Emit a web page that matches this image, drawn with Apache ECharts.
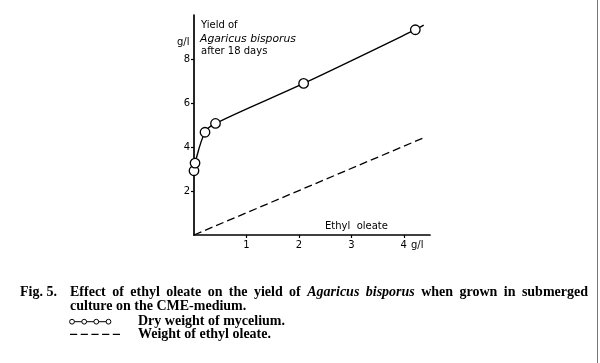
<!DOCTYPE html>
<html><head><meta charset="utf-8">
<script src="https://cdn.jsdelivr.net/npm/echarts@6/dist/echarts.min.js"></script>
<style>html,body{margin:0;padding:0;background:#fff}#c{width:600px;height:363px}</style>
</head><body><div id="c"></div>
<script>
// Dry weight of mycelium (g/l) vs ethyl oleate added (g/l)
var myceliumX = [0, 0.02, 0.21, 0.41, 2.09, 4.22];
var myceliumY = [2.92, 3.27, 4.67, 5.07, 6.89, 9.33];
var myceliumTail = [4.38, 9.54];
// Weight of ethyl oleate
var oleateX = [0, 4.38];
var oleateY = [0, 4.42];
var xTicks = [1, 2, 3, 4];
var yTicks = [2, 4, 6, 8];

var chart = echarts.init(document.getElementById('c'), null, {renderer: 'canvas'});
var myc = myceliumX.map(function (x, i) { return [x, myceliumY[i]]; });
myc.push({value: myceliumTail, symbol: 'none'});
var ole = oleateX.map(function (x, i) { return [x, oleateY[i]]; });

var sans = 'DejaVu Sans';
var serif = 'Liberation Serif';
var ink = '#000';
var capFont = 'bold 14px ' + serif;
var capItalic = 'italic bold 14px ' + serif;

// justified first caption line
var words = [['Effect', 0], ['of', 0], ['ethyl', 0], ['oleate', 0], ['on', 0], ['the', 0], ['yield', 0], ['of', 0],
  ['Agaricus', 1], ['bisporus', 1], ['when', 0], ['grown', 0], ['in', 0], ['submerged', 0]];
var ctx = document.createElement('canvas').getContext('2d');
var widths = words.map(function (w) { ctx.font = w[1] ? capItalic : capFont; return ctx.measureText(w[0]).width; });
var total = widths.reduce(function (a, b) { return a + b; }, 0);
var lineLeft = 70, lineRight = 588;
var gap = (lineRight - lineLeft - total) / (words.length - 1);
var captionGraphics = [];
var cx = lineLeft;
words.forEach(function (w, i) {
  captionGraphics.push({type: 'text', left: cx, top: 285.5,
    style: {text: w[0], font: w[1] ? capItalic : capFont, fill: ink}});
  cx += widths[i] + gap;
});

chart.setOption({
  animation: false,
  backgroundColor: '#fff',
  grid: {left: 194, top: 15, width: 236, height: 220, containLabel: false},
  xAxis: {
    type: 'value', min: 0, max: 4.5, interval: 0.5,
    axisLine: {onZero: false, lineStyle: {color: ink, width: 1.7}},
    axisTick: {show: true, length: 3, lineStyle: {color: ink, width: 1.2},
      customValues: xTicks},
    axisLabel: {color: ink, fontFamily: sans, fontSize: 10, margin: 5,
      customValues: xTicks},
    splitLine: {show: false}
  },
  yAxis: {
    type: 'value', min: 0, max: 10, interval: 2,
    axisLine: {show: true, lineStyle: {color: ink, width: 1.7}},
    axisTick: {show: true, length: 3, lineStyle: {color: ink, width: 1.2},
      customValues: yTicks},
    axisLabel: {color: ink, fontFamily: sans, fontSize: 10, margin: 4,
      customValues: yTicks},
    splitLine: {show: false}
  },
  series: [
    {
      name: 'Dry weight of mycelium', type: 'line', data: myc,
      smooth: 0.35, symbol: 'circle', symbolSize: 9.5,
      itemStyle: {color: '#fff', borderColor: ink, borderWidth: 1.3},
      lineStyle: {color: ink, width: 1.4}, z: 3
    },
    {
      name: 'Weight of ethyl oleate', type: 'line', data: ole,
      symbol: 'none', lineStyle: {color: ink, width: 1.3, type: [8, 4]}
    }
  ],
  graphic: [
    {type: 'text', left: 177, top: 37, style: {text: 'g/l', font: '10px ' + sans, fill: ink}},
    {type: 'text', left: 201, top: 20, style: {text: 'Yield of', font: '10px ' + sans, fill: ink}},
    {type: 'text', left: 200, top: 34, style: {text: 'Agaricus bisporus', font: 'italic 10.8px ' + sans, fill: ink}},
    {type: 'text', left: 201, top: 46, style: {text: 'after 18 days', font: '10px ' + sans, fill: ink}},
    {type: 'text', left: 325, top: 221, style: {text: 'Ethyl  oleate', font: '10px ' + sans, fill: ink}},
    {type: 'text', left: 411, top: 240, style: {text: 'g/l', font: '10px ' + sans, fill: ink}},
    // caption
    {type: 'text', left: 20, top: 285.5, style: {text: 'Fig. 5.', font: capFont, fill: ink}},
    {type: 'text', left: 70, top: 299.5, style: {text: 'culture on the CME-medium.', font: capFont, fill: ink}},
    {type: 'text', left: 138, top: 314.5, style: {text: 'Dry weight of mycelium.', font: capFont, fill: ink}},
    {type: 'text', left: 138, top: 327, style: {text: 'Weight of ethyl oleate.', font: capFont, fill: ink}},
    {type: 'line', shape: {x1: 72, y1: 321.7, x2: 108.5, y2: 321.7}, style: {stroke: ink, lineWidth: 1}},
    {type: 'circle', shape: {cx: 72, cy: 321.7, r: 2.4}, style: {fill: '#fff', stroke: ink, lineWidth: 1}},
    {type: 'circle', shape: {cx: 84.2, cy: 321.7, r: 2.4}, style: {fill: '#fff', stroke: ink, lineWidth: 1}},
    {type: 'circle', shape: {cx: 96.3, cy: 321.7, r: 2.4}, style: {fill: '#fff', stroke: ink, lineWidth: 1}},
    {type: 'circle', shape: {cx: 108.5, cy: 321.7, r: 2.4}, style: {fill: '#fff', stroke: ink, lineWidth: 1}},
    {type: 'line', shape: {x1: 70, y1: 334.3, x2: 120, y2: 334.3}, style: {stroke: ink, lineWidth: 1.3, lineDash: [7.2, 3.5]}},
    {type: 'line', shape: {x1: 597.5, y1: 0, x2: 597.5, y2: 363}, style: {stroke: '#777', lineWidth: 1}}
  ].concat(captionGraphics)
});
</script></body></html>
